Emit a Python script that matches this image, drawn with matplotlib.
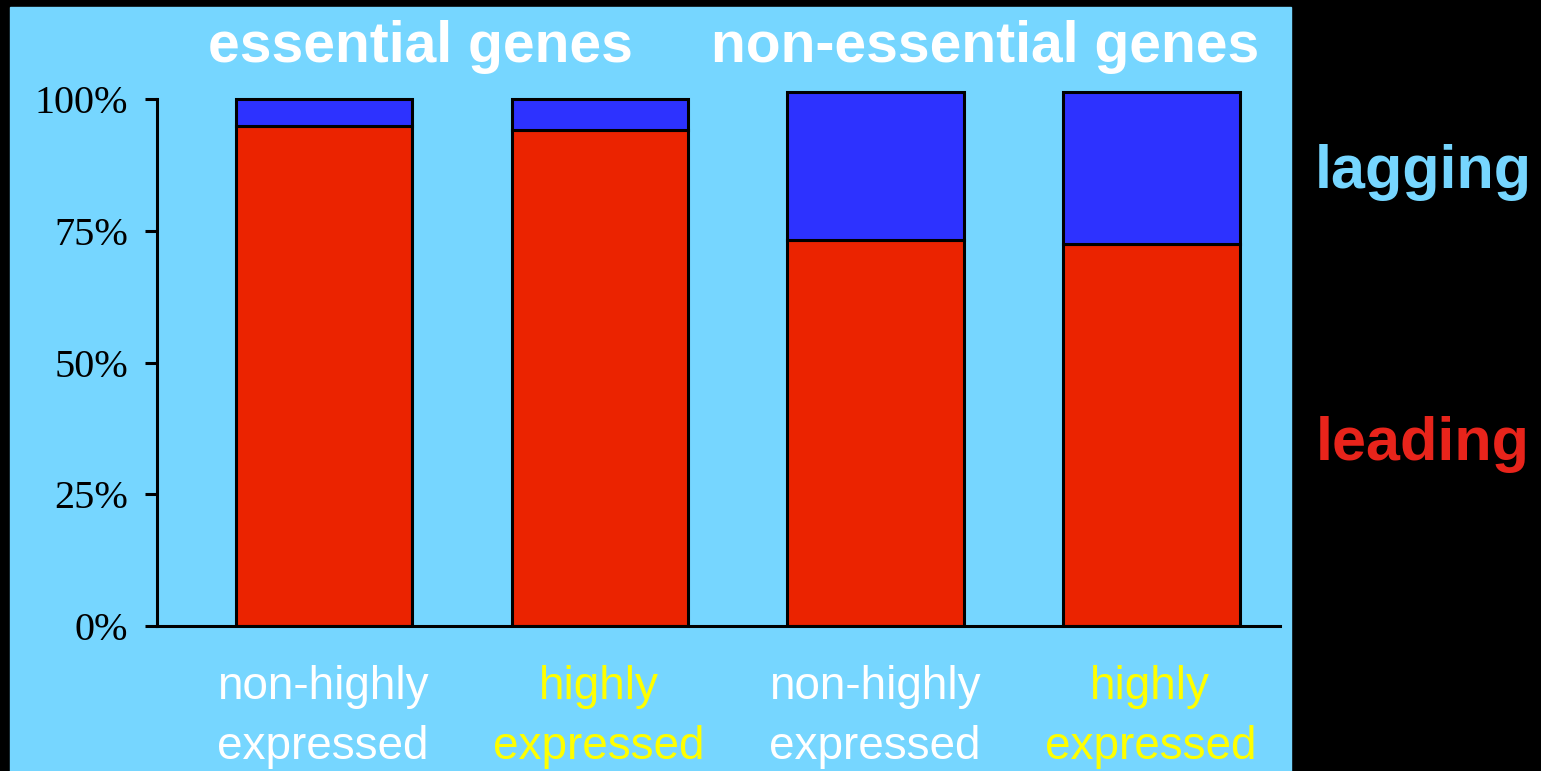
import matplotlib.pyplot as plt
import matplotlib.patches as mpatches
import numpy as np

# stacked percentages
groups = ['non-highly\nexpressed', 'highly\nexpressed', 'non-highly\nexpressed', 'highly\nexpressed']
label_colors = ['white', '#FFFF00', 'white', '#FFFF00']
leading = [94.9, 94.1, 73.2, 72.5]
lagging = [5.1, 5.9, 28.2, 28.9]
headings = ['essential genes', 'non-essential genes']
heading_x = [0.355, 2.40]
yticks = [0, 25, 50, 75, 100]
yticklabels = ['0%', '25%', '50%', '75%', '100%']

panel = '#76D6FF'
red = '#EB2300'
blue = '#2D32FF'

fig = plt.figure(figsize=(15.41, 7.71), dpi=100)
fig.patch.set_facecolor('black')

# light blue slide panel behind the chart
bg = fig.add_axes([0, 0, 1, 1], zorder=-1)
bg.set_xlim(0, 1541)
bg.set_ylim(771, 0)
bg.axis('off')
bg.add_patch(mpatches.Rectangle((10, 7), 1281, 770, color=panel))

ax = fig.add_axes([157/1541., 145/771., 1123/1541., 537.5/771.])
ax.set_facecolor('none')

x = np.arange(len(groups))
ax.bar(x + 0.005, leading, width=0.64, color=red, edgecolor='black', linewidth=2.2)
ax.bar(x + 0.005, lagging, width=0.64, bottom=leading, color=blue, edgecolor='black', linewidth=2.2)

ax.set_xlim(-0.6, 3.47)
ax.set_ylim(0, 102)
for sp in ['top', 'right']:
	ax.spines[sp].set_visible(False)
ax.spines['left'].set_linewidth(2.2)
ax.spines['left'].set_bounds(0, 100)
ax.spines['bottom'].set_linewidth(2.2)
ax.set_xticks([])
ax.set_yticks(yticks)
ax.set_yticklabels(yticklabels, family='Liberation Serif', fontsize=29)
ax.tick_params(axis='y', length=9, width=2.2, pad=12, direction='out')

# category labels under the bars (two lines, reaching the bottom edge like the slide)
for xi, lab, c in zip(x, groups, label_colors):
	ax.text(xi, -0.072, lab, transform=ax.get_xaxis_transform(), ha='center', va='top',
		color=c, fontsize=33, family='Liberation Sans', linespacing=1.48, clip_on=False)

for hx, h in zip(heading_x, headings):
	ax.text(hx, 1.05, h, transform=ax.get_xaxis_transform(), ha='center', va='baseline',
		color='white', fontsize=41, fontweight='bold', family='Liberation Sans')

fig.text(1423/1541., 1 - 188/771., 'lagging', ha='center', va='baseline', color=panel,
	fontsize=44, fontweight='bold', family='Liberation Sans')
fig.text(1423/1541., 1 - 460/771., 'leading', ha='center', va='baseline', color='#E8241B',
	fontsize=44, fontweight='bold', family='Liberation Sans')

plt.savefig('out.png', dpi=100, facecolor=fig.get_facecolor())
